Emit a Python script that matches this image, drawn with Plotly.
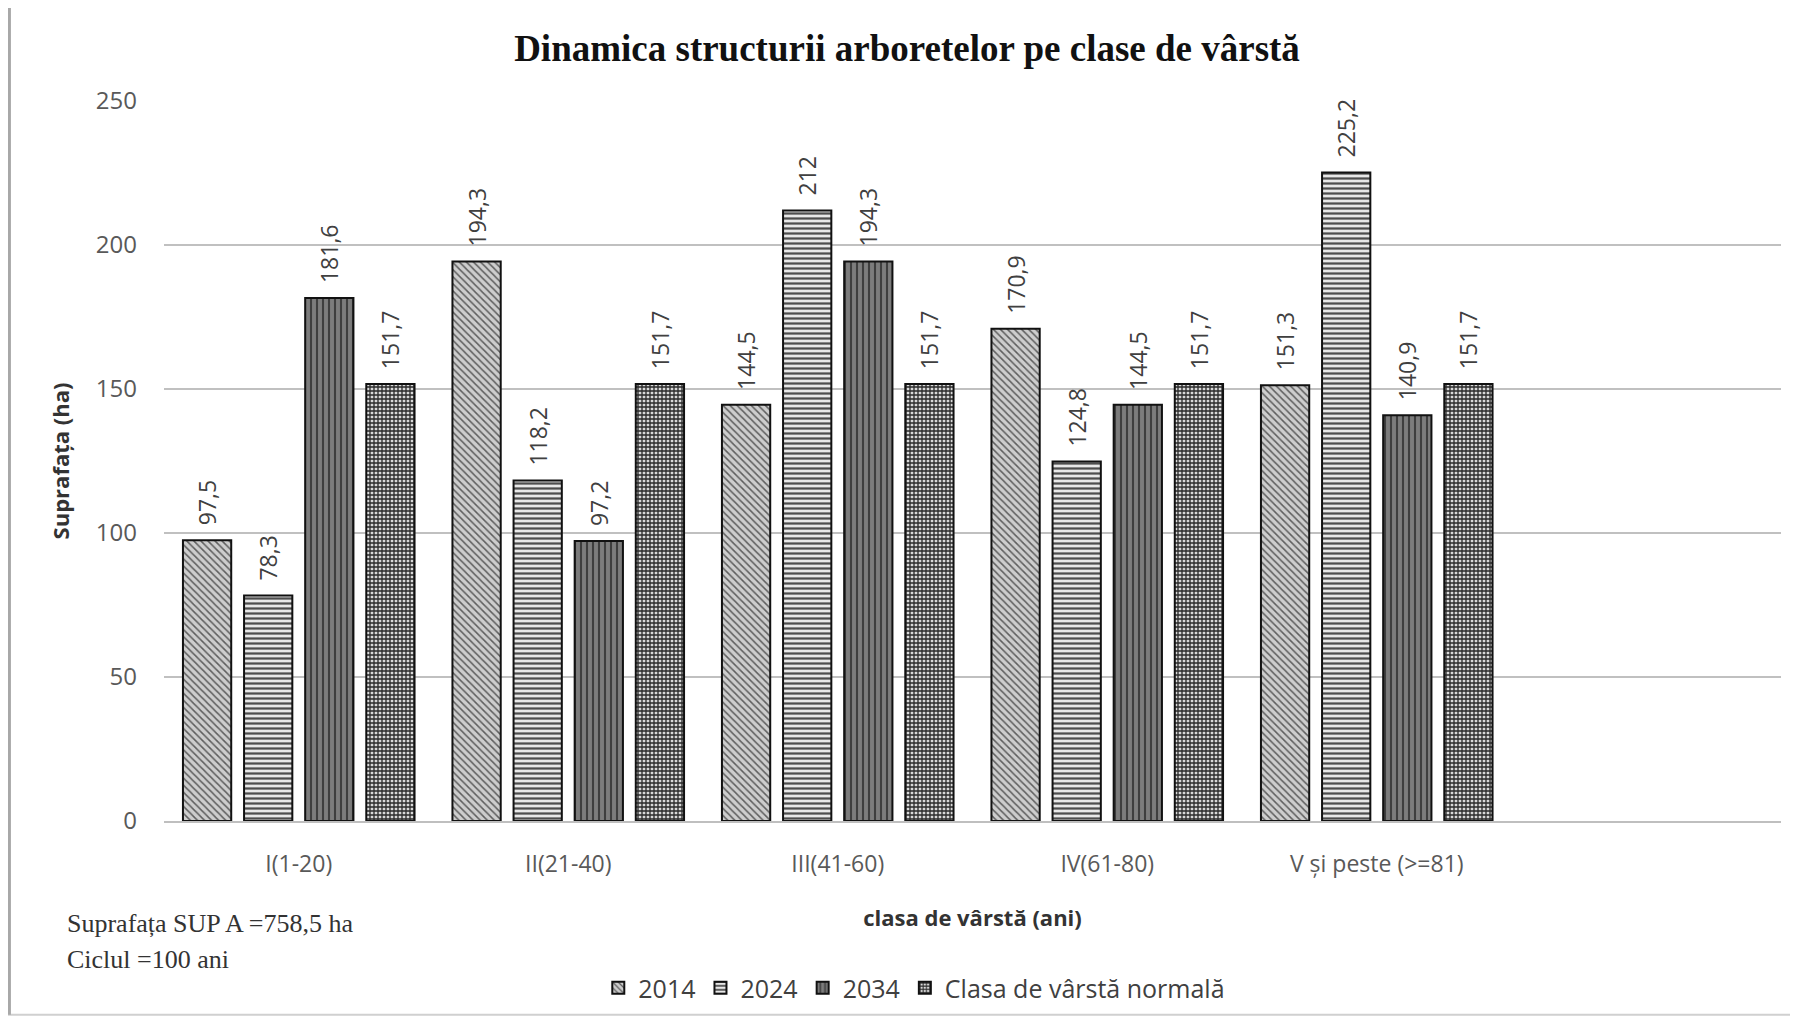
import plotly.graph_objects as go

categories = ["I(1-20)", "II(21-40)", "III(41-60)", "IV(61-80)", "V și peste (>=81)"]
series_names = ["2014", "2024", "2034", "Clasa de vârstă normală"]
v2014 = [97.5, 194.3, 144.5, 170.9, 151.3]
v2024 = [78.3, 118.2, 212.0, 124.8, 225.2]
v2034 = [181.6, 97.2, 194.3, 144.5, 140.9]
vnormal = [151.7, 151.7, 151.7, 151.7, 151.7]
y_ticks = [0, 50, 100, 150, 200, 250]

title_text = "Dinamica structurii arboretelor pe clase de vârstă"
x_title = "clasa de vârstă (ani)"
y_title = "Suprafața (ha)"
note1 = "Suprafața SUP A =758,5 ha"
note2 = "Ciclul =100 ani"

styles = [
    dict(shape="\\", bgcolor="#cdcdcd", fgcolor="#5e5e5e", size=5, solidity=0.3),
    dict(shape="-", bgcolor="#e8e8e8", fgcolor="#4e4e4e", size=5, solidity=0.45),
    dict(shape="|", bgcolor="#7c7c7c", fgcolor="#3e3e3e", size=6, solidity=0.35),
    dict(shape="+", bgcolor="#dadada", fgcolor="#2a2a2a", size=4, solidity=0.55),
]

def fmt(v):
    # leading non-breaking spaces give the gap between bar top and rotated label
    return "\u00a0\u00a0" + f"{v:g}".replace(".", ",")

fig = go.Figure()
for name, vals, st in zip(series_names, [v2014, v2024, v2034, vnormal], styles):
    fig.add_trace(go.Bar(
        name=name, x=categories, y=vals,
        text=[fmt(v) for v in vals],
        textposition="outside", textangle=-90, constraintext="none",
        textfont=dict(family="Open Sans", size=23, color="#404040"),
        cliponaxis=False,
        marker=dict(
            color=st["bgcolor"],
            line=dict(color="#111111", width=2),
            pattern=dict(shape=st["shape"], bgcolor=st["bgcolor"], fgcolor=st["fgcolor"],
                         size=st["size"], solidity=st["solidity"], fillmode="replace"),
        ),
    ))

fig.update_layout(
    width=1798, height=1024,
    paper_bgcolor="white", plot_bgcolor="white",
    margin=dict(l=156, r=25, t=93, b=211),
    barmode="group", bargap=0.093, bargroupgap=0.21,
    title=dict(text=title_text, x=0.5, xanchor="center", y=1 - 40 / 1024, yanchor="middle",
               font=dict(family="Liberation Serif", size=37, color="#111111", weight="bold")),
    showlegend=True,
    legend=dict(orientation="h", x=0.464, xanchor="center", y=-0.232, yanchor="middle",
                font=dict(family="Open Sans", size=25, color="#404040"),
                itemsizing="constant", traceorder="normal"),
    font=dict(family="Open Sans", color="#595959"),
)

fig.update_xaxes(
    range=[-0.5, 5.5], showgrid=False, showline=True, linecolor="#bfbfbf", linewidth=1.5,
    ticks="", tickfont=dict(family="Open Sans", size=23, color="#595959"),
    ticklabelstandoff=22,
    title=dict(text=x_title, standoff=32,
               font=dict(family="Open Sans", size=22, color="#333333", weight="bold")),
)
fig.update_yaxes(
    range=[0, 250], tickvals=y_ticks, showgrid=True, gridcolor="#c0c0c0", gridwidth=1.5,
    zeroline=False, showline=False, ticks="",
    tickfont=dict(family="Open Sans", size=24, color="#595959"),
    ticklabelstandoff=26,
    title=dict(text=y_title, standoff=20,
               font=dict(family="Open Sans", size=22, color="#333333", weight="bold")),
)

fig.add_annotation(text=note1, xref="paper", yref="paper", x=-0.061, y=-0.142,
                   xanchor="left", yanchor="middle", showarrow=False,
                   font=dict(family="Liberation Serif", size=26, color="#333333"))
fig.add_annotation(text=note2, xref="paper", yref="paper", x=-0.061, y=-0.192,
                   xanchor="left", yanchor="middle", showarrow=False,
                   font=dict(family="Liberation Serif", size=26, color="#333333"))

fig.add_shape(type="rect", xref="paper", yref="paper", x0=-0.0959, x1=1.0062, y0=-0.269, y1=1.132,
              line=dict(color="#d0d0d0", width=2), layer="below")
fig.add_shape(type="line", xref="paper", yref="paper", x0=-0.0959, x1=-0.0959, y0=-0.269, y1=1.132,
              line=dict(color="#a8a8a8", width=4), layer="below")

fig.write_html("out.html")
